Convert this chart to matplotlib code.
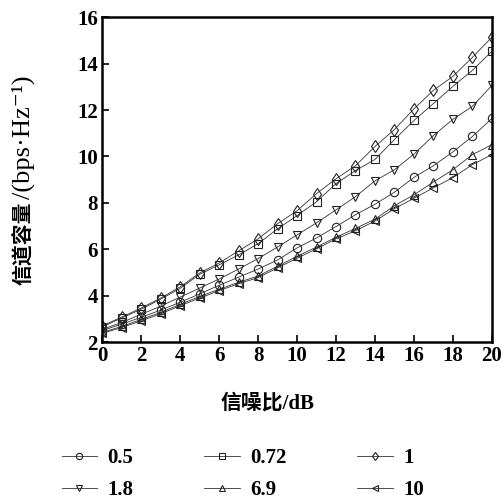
import numpy as np
import matplotlib
matplotlib.use("Agg")
import matplotlib.pyplot as plt

# 信噪比 (dB)
snr = np.arange(0, 21)

# 各参数下的信道容量 (bps/Hz)
labels = ["0.5", "0.72", "1", "1.8", "6.9", "10"]
markers = ["o", "s", "d", "v", "^", "<"]

cap_05 = [2.50, 2.78, 3.07, 3.38, 3.72, 4.08, 4.45, 4.80, 5.15, 5.54, 6.06,
          6.49, 6.98, 7.49, 7.94, 8.46, 9.10, 9.60, 10.20, 10.86, 11.64]
cap_072 = [2.66, 3.04, 3.42, 3.85, 4.32, 4.92, 5.33, 5.76, 6.24, 6.88, 7.45,
           8.05, 8.83, 9.39, 9.87, 10.73, 11.55, 12.28, 13.02, 13.71, 14.53]
cap_1 = [2.70, 3.08, 3.47, 3.90, 4.38, 4.98, 5.41, 5.93, 6.45, 7.10, 7.66,
         8.40, 9.04, 9.60, 10.43, 11.16, 12.05, 12.85, 13.45, 14.27, 15.14]
cap_18 = [2.55, 2.85, 3.20, 3.55, 3.94, 4.33, 4.72, 5.15, 5.60, 6.10, 6.62,
          7.14, 7.70, 8.27, 8.95, 9.43, 10.10, 10.90, 11.60, 12.16, 13.06]
cap_69 = [2.42, 2.68, 2.98, 3.28, 3.63, 3.97, 4.28, 4.58, 4.85, 5.27, 5.70,
          6.10, 6.52, 6.90, 7.30, 7.88, 8.35, 8.90, 9.43, 10.08, 10.51]
cap_10 = [2.38, 2.63, 2.92, 3.22, 3.57, 3.90, 4.22, 4.52, 4.78, 5.20, 5.62,
          6.02, 6.45, 6.80, 7.22, 7.75, 8.20, 8.65, 9.09, 9.65, 10.08]

series = [cap_05, cap_072, cap_1, cap_18, cap_69, cap_10]

xticks = np.arange(0, 21, 2)
yticks = np.arange(2, 17, 2)

fam = ["Liberation Serif", "Noto Sans CJK SC", "DejaVu Sans"]

fig = plt.figure(figsize=(5.03, 5.04), dpi=100)
ax = fig.add_axes([0.203, 0.321, 0.775, 0.645])

handles = []
for y, lab, m in zip(series, labels, markers):
    h, = ax.plot(snr, y, color="#333333", lw=0.6, marker=m, ms=6,
                 mfc="none", mec="#222222", mew=0.8, label=lab)
    handles.append(h)

ax.set_xlim(0, 20)
ax.set_ylim(2, 16)
ax.set_xticks(xticks)
ax.set_yticks(yticks)
ax.tick_params(direction="in", length=5, width=1.2, labelsize=15, pad=3)
for t in ax.get_xticklabels() + ax.get_yticklabels():
    t.set_family(fam)
    t.set_fontweight("bold")
for s in ax.spines.values():
    s.set_linewidth(1.8)

# 纵轴标题：中文粗体，单位常规体
fig.text(0.046, 0.518, "信道容量", rotation=90, ha="center", va="center",
         family=["Noto Sans CJK SC"], fontweight="bold", fontsize=15)
fig.text(0.046, 0.728, "/(bps·Hz⁻¹)", rotation=90, ha="center", va="center",
         family=fam, fontsize=19)
fig.text(0.531, 0.200, "信噪比/dB", ha="center", va="center",
         family=fam, fontweight="bold", fontsize=15)

# 图例按行排列：0.5 0.72 1 / 1.8 6.9 10
order = [0, 3, 1, 4, 2, 5]
leg = fig.legend([handles[i] for i in order], [labels[i] for i in order],
                 ncol=3, loc="lower left", bbox_to_anchor=(0.085, -0.03),
                 frameon=False, prop={"family": fam, "weight": "bold", "size": 15},
                 handlelength=1.7, columnspacing=3.4, labelspacing=0.6,
                 handletextpad=0.5)
for h in leg.legend_handles:
    h.set_markersize(4.5)

fig.savefig("out.png", dpi=100)
